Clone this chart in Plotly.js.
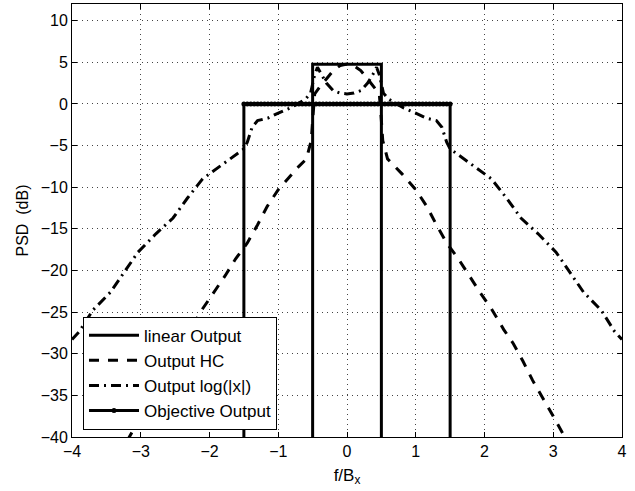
<!DOCTYPE html>
<html>
<head>
<meta charset="utf-8">
<script src="https://cdn.plot.ly/plotly-3.0.1.min.js"></script>
<style>html,body{margin:0;padding:0;background:#fff;}#chart{width:635px;height:491px;}</style>
</head>
<body>
<div id="chart"></div>
<script>
// Linear output (ideal rectangle, band ±0.5)
const linearX = [-0.5, -0.5, 0.5, 0.5];
const linearY = [-100, 4.77, 4.77, -100];

// Output HC (hard clipping)
const hcX = [-3.2, -3.14, -3.0, -2.85, -2.7, -2.56, -2.42, -2.28, -2.1, -1.94, -1.77, -1.62, -1.45, -1.3, -1.16, -1.0, -0.8, -0.7, -0.59, -0.52, -0.5, -0.47, -0.4, -0.3, -0.2, -0.1, 0,
             0.1, 0.2, 0.3, 0.4, 0.47, 0.5, 0.52, 0.59, 0.7, 0.8, 1.0, 1.16, 1.3, 1.45, 1.62, 1.77, 1.94, 2.1, 2.28, 2.42, 2.56, 2.7, 2.85, 3.0, 3.14, 3.2];
const hcY = [-40.5, -39.6, -37.5, -35.3, -33.2, -30.9, -28.8, -27.1, -24.6, -22.7, -20.6, -18.6, -16.7, -14.5, -12.3, -10.3, -8.4, -7.5, -6.6, -4.4, -2.0, 1.2, 2.0, 3.0, 4.0, 4.6, 4.8,
             4.6, 4.0, 3.0, 2.0, 1.2, -2.0, -4.4, -6.6, -7.5, -8.4, -10.3, -12.3, -14.5, -16.7, -18.6, -20.6, -22.7, -24.6, -27.1, -28.8, -30.9, -33.2, -35.3, -37.5, -39.6, -40.5];

// Output log(|x|)
const logX = [-4.0, -3.89, -3.7, -3.44, -3.24, -3.04, -2.78, -2.53, -2.32, -2.1, -1.8, -1.6, -1.5, -1.45, -1.38, -1.3, -1.15, -1.0, -0.83, -0.7, -0.6, -0.53, -0.47, -0.43, -0.38, -0.3, -0.2, -0.1, 0,
              0.1, 0.2, 0.3, 0.38, 0.43, 0.47, 0.53, 0.6, 0.7, 0.83, 1.0, 1.15, 1.3, 1.38, 1.45, 1.5, 1.6, 1.8, 2.1, 2.32, 2.53, 2.78, 3.04, 3.24, 3.44, 3.7, 3.89, 4.0];
const logY = [-28.3, -27.3, -24.8, -22.6, -20.2, -17.8, -15.6, -13.7, -11.3, -9.0, -7.2, -6.0, -5.4, -4.6, -2.8, -2.0, -1.7, -1.1, -0.5, 0.1, 0.6, 1.3, 3.5, 4.4, 3.6, 2.5, 1.6, 1.3, 1.2,
              1.3, 1.6, 2.5, 3.6, 4.4, 3.5, 1.3, 0.6, 0.1, -0.5, -1.1, -1.7, -2.0, -2.8, -4.6, -5.4, -6.0, -7.2, -9.0, -11.3, -13.7, -15.6, -17.8, -20.2, -22.6, -24.8, -27.3, -28.3];

// Objective output (0 dB over |f| <= 1.5, sampled grid)
const objX = [-1.5, -1.5, -1.45, -1.4, -1.35, -1.3, -1.25, -1.2, -1.15, -1.1, -1.05, -1.0, -0.95, -0.9, -0.85, -0.8, -0.75, -0.7, -0.65, -0.6, -0.55, -0.5,
              -0.45, -0.4, -0.35, -0.3, -0.25, -0.2, -0.15, -0.1, -0.05, 0, 0.05, 0.1, 0.15, 0.2, 0.25, 0.3, 0.35, 0.4, 0.45, 0.5,
              0.55, 0.6, 0.65, 0.7, 0.75, 0.8, 0.85, 0.9, 0.95, 1.0, 1.05, 1.1, 1.15, 1.2, 1.25, 1.3, 1.35, 1.4, 1.45, 1.5, 1.5];
const objY = [-100, 0, 0, 0, 0, 0, 0, 0, 0, 0, 0, 0, 0, 0, 0, 0, 0, 0, 0, 0, 0, 0,
              0, 0, 0, 0, 0, 0, 0, 0, 0, 0, 0, 0, 0, 0, 0, 0, 0, 0, 0, 0,
              0, 0, 0, 0, 0, 0, 0, 0, 0, 0, 0, 0, 0, 0, 0, 0, 0, 0, 0, 0, -100];

const seriesNames = ['linear Output', 'Output HC', 'Output log(|x|)', 'Objective Output'];
const xTicks = [-4, -3, -2, -1, 0, 1, 2, 3, 4];
const yTicks = [-40, -35, -30, -25, -20, -15, -10, -5, 0, 5, 10];

const font = 'Liberation Sans, Arial, Helvetica, sans-serif';

const traces = [
  {x: linearX, y: linearY, name: seriesNames[0], mode: 'lines', line: {color: '#000', width: 3}},
  {x: hcX, y: hcY, name: seriesNames[1], mode: 'lines', line: {color: '#000', width: 3, dash: '10px,9px'}},
  {x: logX, y: logY, name: seriesNames[2], mode: 'lines', line: {color: '#000', width: 3, dash: '10px,5px,2px,5px'}},
  {x: objX, y: objY, name: seriesNames[3], mode: 'lines+markers', line: {color: '#000', width: 3},
   marker: {symbol: 'circle', size: 5, color: '#000'}}
];

const layout = {
  width: 635, height: 491,
  margin: {l: 72, r: 13, t: 4, b: 54},
  paper_bgcolor: '#fff', plot_bgcolor: '#fff',
  font: {family: font, size: 16, color: '#000'},
  showlegend: true,
  legend: {
    x: 0.02, y: 0.278, xanchor: 'left', yanchor: 'top',
    bgcolor: '#fff', bordercolor: '#000', borderwidth: 1,
    font: {family: font, size: 17, color: '#000'},
    itemwidth: 50,
    tracegroupgap: 0
  },
  xaxis: {
    range: [-4, 4], tickvals: xTicks, ticktext: xTicks.map(v => v < 0 ? '\u2212' + Math.abs(v) : String(v)),
    ticks: 'inside', ticklen: 5, tickcolor: '#000', mirror: 'ticks',
    showline: true, linecolor: '#000', linewidth: 1,
    showgrid: true, gridcolor: '#444', griddash: '1px,4px', gridwidth: 1,
    zeroline: false,
    tickfont: {family: font, size: 16, color: '#000'},
    title: {text: 'f/B<sub>x</sub>', font: {family: font, size: 17, color: '#000'}, standoff: 9}
  },
  yaxis: {
    range: [-40, 12], tickvals: yTicks, ticktext: yTicks.map(v => v < 0 ? '\u2212' + Math.abs(v) : String(v)),
    ticks: 'inside', ticklen: 5, tickcolor: '#000', mirror: 'ticks',
    showline: true, linecolor: '#000', linewidth: 1,
    showgrid: true, gridcolor: '#444', griddash: '1px,4px', gridwidth: 1,
    zeroline: false,
    tickfont: {family: font, size: 16, color: '#000'},
    title: {text: 'PSD  (dB)', font: {family: font, size: 16, color: '#000'}, standoff: 8}
  }
};

Plotly.newPlot('chart', traces, layout, {displayModeBar: false, staticPlot: true});
</script>
</body>
</html>
